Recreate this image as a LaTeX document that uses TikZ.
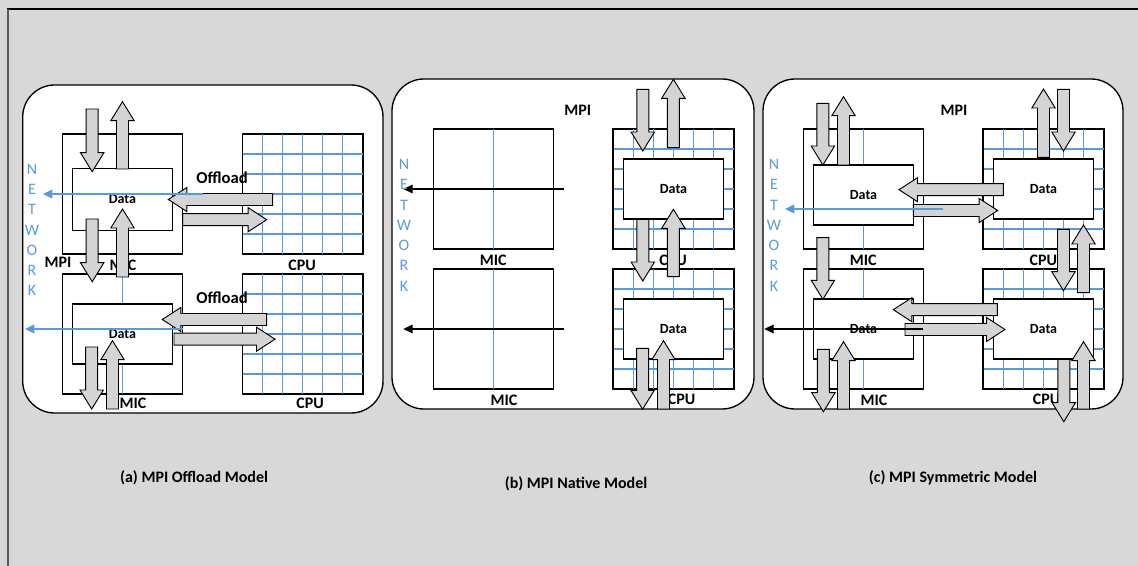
\documentclass[tikz,border=0pt]{standalone}
\usepackage{fontspec}
\setmainfont{Carlito}
\usetikzlibrary{arrows.meta}
\definecolor{bgc}{HTML}{D8D8D8}
\definecolor{afill}{HTML}{D4D4D4}
\definecolor{gblue}{HTML}{5B9BD5}
\tikzset{
  panel/.style={draw=black, line width=1pt, fill=white, rounded corners=24pt},
  mbox/.style={draw=black, line width=0.8pt, fill=white, minimum width=90pt, minimum height=90pt, inner sep=0pt},
  gbox/.style={draw=black, line width=0.8pt, fill=white, minimum width=90pt, minimum height=90pt, inner sep=0pt},
  dbox/.style={draw=black, line width=0.8pt, fill=white, minimum width=75pt, minimum height=45pt, inner sep=0pt, font=\bfseries\fontsize{10.5}{12}\selectfont},
  lbl/.style={font=\bfseries\fontsize{12}{14}\selectfont, inner sep=0pt},
  captxt/.style={font=\bfseries\fontsize{12}{14}\selectfont, inner sep=0pt},
  netl/.style={font=\fontsize{12}{14}\selectfont, text=gblue, inner sep=0pt},
  gline/.style={draw=gblue, line width=1.15pt},
  barrow/.style={draw=black, line width=0.7pt, fill=afill, line join=miter},
  bnet/.style={draw=gblue, line width=1pt, -{Triangle[length=7pt,width=6.5pt]}},
  knet/.style={draw=black, line width=0.85pt, -{Triangle[length=7pt,width=6.5pt]}},
}
\newcommand\varr[3]{%
  \pgfmathsetmacro\dd{(#3>#2)?1:-1}%
  \pgfmathsetmacro\yb{#3-\dd*19}%
  \draw[barrow] (#1-6,#2) -- (#1-6,\yb) -- (#1-11.7,\yb) -- (#1,#3) -- (#1+11.7,\yb) -- (#1+6,\yb) -- (#1+6,#2) -- cycle;}
\newcommand\harr[3]{%
  \pgfmathsetmacro\dd{(#3>#2)?1:-1}%
  \pgfmathsetmacro\xb{#3-\dd*18.5}%
  \draw[barrow] (#2,#1-6) -- (\xb,#1-6) -- (\xb,#1-12) -- (#3,#1) -- (\xb,#1+12) -- (\xb,#1+6) -- (#2,#1+6) -- cycle;}
\newcommand\cpugrid[2]{% left x, top y
  \foreach \k in {1,...,5} {
    \draw[gline] (#1+20*\k,#2) -- (#1+20*\k,#2+120);
    \draw[gline] (#1,#2+20*\k) -- (#1+120,#2+20*\k);
  }}
\newcommand\network[3]{% x, y first, step
  \foreach \ch [count=\i from 0] in {N,E,T,W,O,R,K}
    \node[netl] at (#1,#2+#3*\i) {\ch};}
\begin{document}
\begin{tikzpicture}[x=0.75pt,y=-0.75pt]
\useasboundingbox (0,0) rectangle (1138,566);
\fill[bgc] (0,0) rectangle (1138,566);
\draw[black, line width=1.2pt] (7,9) -- (1138,9);
\draw[black!65, line width=1.5pt] (7.5,9) -- (7.5,566);

% ================= panel (a)
\draw[panel] (22.7,85) rectangle (383,413);
\node[mbox] (aMIC1) at (122.7,194) {};
\node[mbox] (aMIC2) at (122.7,334) {};
\draw[gline] (122.7,134) -- (122.7,254);
\draw[gline] (122.7,274) -- (122.7,394);
\node[gbox] (aCPU1) at (302.7,194) {};
\node[gbox] (aCPU2) at (302.7,334) {};
\cpugrid{242.7}{134}
\cpugrid{242.7}{274}
\draw[line width=0.8pt] (aCPU1.north west) rectangle (aCPU1.south east);
\draw[line width=0.8pt] (aCPU2.north west) rectangle (aCPU2.south east);
\node[lbl] at (58,262.7) {MPI};
\node[lbl] at (123,265) {MIC};
\node[lbl] at (302,265) {CPU};
\node[lbl] at (133,403) {MIC};
\node[lbl] at (310,403) {CPU};
\node[dbox, minimum height=46pt] (aD1) at (122.5,199.5) {Data};
\node[dbox] (aD2) at (122.5,334) {Data};
\varr{92.2}{109}{171.7}
\varr{122.5}{169}{101.7}
\varr{92.2}{219}{281.7}
\varr{122.5}{277}{209}
\varr{91.7}{347}{409}
\varr{112.5}{409}{340.7}
\harr{199.5}{272.7}{168.3}
\harr{219.7}{182.7}{266.7}
\harr{319.5}{266.7}{162.3}
\harr{339.2}{174}{275}
\node[lbl, font=\bfseries\fontsize{12.5}{14}\selectfont] at (222,178) {Offload};
\node[lbl, font=\bfseries\fontsize{12.5}{14}\selectfont] at (222,298) {Offload};
\coordinate (aS1) at (203,194);
\coordinate (aT1) at (43,194);
\coordinate (aS2) at (183,329);
\coordinate (aT2) at (25,329);
\draw[bnet] (aS1) -- (aT1);
\draw[bnet] (aS2) -- (aT2);
\network{32}{169}{20.3}

% ================= panel (b)
\draw[panel] (392,79) rectangle (754,409);
\node[mbox] (bMIC1) at (493.5,189) {};
\node[mbox] (bMIC2) at (493.5,329) {};
\draw[gline] (493.5,129) -- (493.5,249);
\draw[gline] (493.5,269) -- (493.5,389);
\node[gbox] (bCPU1) at (673.5,189) {};
\node[gbox] (bCPU2) at (673.5,329) {};
\cpugrid{613.5}{129}
\cpugrid{613.5}{269}
\draw[line width=0.8pt] (bCPU1.north west) rectangle (bCPU1.south east);
\draw[line width=0.8pt] (bCPU2.north west) rectangle (bCPU2.south east);
\node[lbl] at (577.7,110) {MPI};
\node[lbl] at (493.3,260) {MIC};
\node[lbl] at (504,400) {MIC};
\node[lbl] at (673,260.7) {CPU};
\node[lbl] at (681.7,399.3) {CPU};
\node[dbox] (bD1) at (673.5,189) {Data};
\node[dbox] (bD2) at (673.5,329) {Data};
\varr{642.8}{89.3}{151}
\varr{673.4}{147.7}{79.3}
\varr{642.8}{219.3}{281}
\varr{673.4}{276.7}{209.3}
\varr{642.6}{348.3}{409.3}
\varr{663.5}{409}{340.7}
\coordinate (bS1) at (564,189);
\coordinate (bT1) at (403.3,189);
\coordinate (bS2) at (564,329);
\coordinate (bT2) at (403.3,329);
\draw[knet] (bS1) -- (bT1);
\draw[knet] (bS2) -- (bT2);
\network{404}{164.3}{20.3}

% ================= panel (c)
\draw[panel] (763,79) rectangle (1123,409);
\node[mbox] (cMIC1) at (863.5,189) {};
\node[mbox] (cMIC2) at (863.5,329) {};
\draw[gline] (863.5,129) -- (863.5,249);
\draw[gline] (863.5,269) -- (863.5,389);
\node[gbox] (cCPU1) at (1043.5,189) {};
\node[gbox] (cCPU2) at (1043.5,329) {};
\cpugrid{983.5}{129}
\cpugrid{983.5}{269}
\draw[line width=0.8pt] (cCPU1.north west) rectangle (cCPU1.south east);
\draw[line width=0.8pt] (cCPU2.north west) rectangle (cCPU2.south east);
\node[lbl] at (954,110) {MPI};
\node[lbl] at (863.3,260) {MIC};
\node[lbl] at (874,400) {MIC};
\node[lbl] at (1043.3,260.7) {CPU};
\node[lbl] at (1046.7,399.3) {CPU};
\node[dbox] (cD1) at (863.5,195) {Data};
\node[dbox] (cD2) at (863.5,329) {Data};
\node[dbox] (cD3) at (1043.5,189) {Data};
\node[dbox] (cD4) at (1043.5,329) {Data};
\varr{822.9}{103.3}{165}
\varr{843.5}{165}{96.7}
\varr{822.9}{237.7}{299.3}
\varr{823.4}{349.3}{411.7}
\varr{843.5}{409}{341.7}
\varr{1043.5}{157.3}{89}
\varr{1063.5}{89.3}{151}
\varr{1063.5}{229.3}{290.7}
\varr{1083.5}{292.7}{225}
\varr{1063.8}{359.3}{421.7}
\varr{1083.5}{409}{341.7}
\harr{189.7}{1003.3}{899}
\harr{210.5}{913.3}{997.7}
\harr{309.7}{997.3}{893.3}
\harr{329.5}{905}{1005}
\coordinate (cS1) at (943.3,209);
\coordinate (cT1) at (785,209);
\coordinate (cS2) at (923.3,329);
\coordinate (cT2) at (764.3,329);
\draw[bnet] (cS1) -- (cT1);
\draw[knet] (cS2) -- (cT2);
\network{774}{164.3}{20.3}

% ================= captions
\node[captxt] (capA) at (194,478) {(a) MPI Offload Model};
\node[captxt] (capB) at (576,484) {(b) MPI Native Model};
\node[captxt] (capC) at (953,478) {(c) MPI Symmetric Model};
\end{tikzpicture}
\end{document}
